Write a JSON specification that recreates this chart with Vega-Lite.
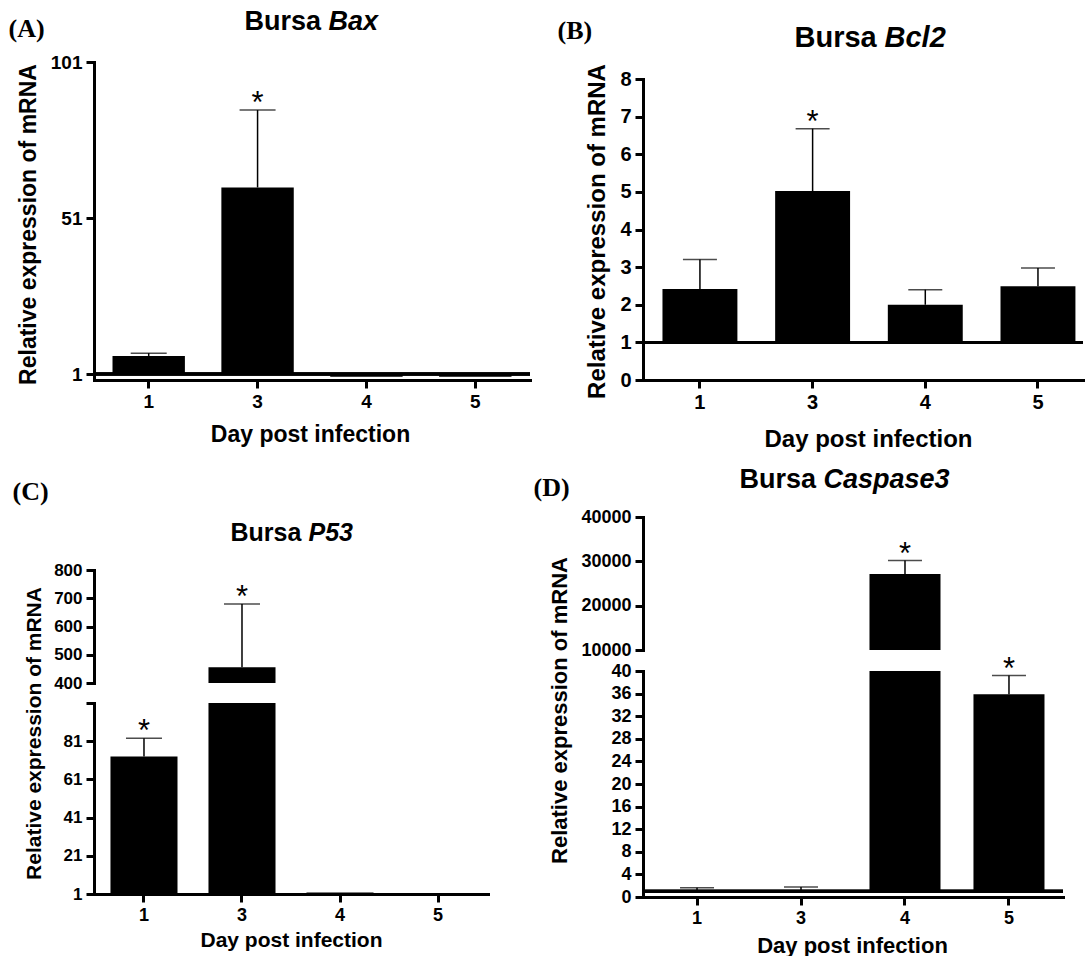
{
  "$schema": "https://vega.github.io/schema/vega-lite/v6.json",
  "background": "white",
  "padding": {"left": 8, "top": 7, "right": 0, "bottom": 0},
  "config": {
    "view": {"stroke": null},
    "font": "Liberation Sans",
    "axis": {
      "grid": false,
      "domainColor": "#000", "domainWidth": 3, "domainCap": "square",
      "tickColor": "#000", "tickWidth": 3, "tickSize": 8,
      "labelPadding": 4, "labelFont": "Liberation Sans", "labelFontWeight": "bold", "labelColor": "#000", "labelOverlap": false, "labelAngle": 0,
      "titleFont": "Liberation Sans", "titleFontWeight": "bold", "titleColor": "#000"
    }
  },
  "datasets": {
    "A": [
      {"day": "1", "value": 6.8, "err": 7.7, "sig": ""},
      {"day": "3", "value": 60.8, "err": 85.6, "sig": "*"},
      {"day": "4", "value": 0.15, "err": null, "sig": ""},
      {"day": "5", "value": 0.15, "err": null, "sig": ""}
    ],
    "B": [
      {"day": "1", "value": 2.42, "err": 3.2, "sig": ""},
      {"day": "3", "value": 5.02, "err": 6.68, "sig": "*"},
      {"day": "4", "value": 2.0, "err": 2.4, "sig": ""},
      {"day": "5", "value": 2.49, "err": 2.98, "sig": ""}
    ],
    "C": [
      {"day": "1", "value": 73, "err": 82.6, "sig": "*"},
      {"day": "3", "value": 456, "err": 680, "sig": "*"},
      {"day": "4", "value": 1.8, "err": null, "sig": ""},
      {"day": "5", "value": 1.05, "err": null, "sig": ""}
    ],
    "D": [
      {"day": "1", "value": 1.1, "err": 1.65, "sig": ""},
      {"day": "3", "value": 1.15, "err": 1.75, "sig": ""},
      {"day": "4", "value": 27158, "err": 30181, "sig": "*"},
      {"day": "5", "value": 35.9, "err": 39.2, "sig": "*"}
    ]
  },
  "spacing": 14,
  "vconcat": [
    {
      "hconcat": [
        {
          "width": 436, "height": 318,
          "data": {"name": "A"},
          "resolve": {"axis": {"x": "independent"}},
          "layer": [
            {
              "mark": {"type": "bar", "color": "#000"},
              "encoding": {
                "x": {"field": "day", "type": "nominal",
                  "scale": {"domain": ["1", "3", "4", "5"], "paddingInner": 0.335, "paddingOuter": 0.17},
                  "axis": {"orient": "bottom", "labelFontSize": 19, "title": "Day post infection", "titleFontSize": 23, "titleX": 216, "titleY": 61, "titleAlign": "center", "titleBaseline": "alphabetic"}},
                "y": {"field": "value", "type": "quantitative",
                  "scale": {"domain": [-0.9, 101], "nice": false, "zero": false},
                  "axis": {"values": [1, 51, 101], "tickCount": 30, "format": "d", "labelFontSize": 19, "title": "Relative expression of mRNA", "titleFontSize": 23, "titleX": -66, "titleY": 162, "titleAlign": "center", "titleBaseline": "middle", "titleAngle": 270}},
                "y2": {"datum": 1}
              }
            },
            {
              "transform": [{"filter": "datum.err != null"}],
              "mark": {"type": "rule", "color": "#000", "strokeWidth": 1.5},
              "encoding": {
                "x": {"field": "day", "type": "nominal",
                  "axis": {"orient": "top", "domain": false, "ticks": false, "labels": false, "title": "(A)", "titleFont": "Liberation Serif", "titleFontSize": 26, "titleX": -86, "titleY": -26, "titleAlign": "left", "titleBaseline": "alphabetic", "titleAngle": 0}},
                "y": {"field": "value", "type": "quantitative"},
                "y2": {"field": "err"}
              }
            },
            {
              "transform": [{"filter": "datum.err != null"}],
              "mark": {"type": "tick", "color": "#000", "thickness": 1.5, "size": 36},
              "encoding": {
                "x": {"field": "day", "type": "nominal",
                  "axis": {"orient": "top", "domain": false, "ticks": false, "labels": false, "title": "Bursa", "titleFontSize": 27, "titleX": 150, "titleY": -33, "titleAlign": "left", "titleBaseline": "alphabetic", "titleAngle": 0}},
                "y": {"field": "err", "type": "quantitative"}
              }
            },
            {
              "transform": [{"filter": "datum.sig == '*'"}],
              "mark": {"type": "text", "color": "#000", "fontSize": 31, "baseline": "alphabetic", "dy": 3},
              "encoding": {
                "x": {"field": "day", "type": "nominal",
                  "axis": {"orient": "top", "domain": false, "ticks": false, "labels": false, "title": "Bax", "titleFontStyle": "italic", "titleFontSize": 27, "titleX": 234, "titleY": -33, "titleAlign": "left", "titleBaseline": "alphabetic", "titleAngle": 0}},
                "y": {"field": "err", "type": "quantitative"},
                "text": {"field": "sig"}
              }
            },
            {
              "mark": {"type": "rule", "color": "#000", "strokeWidth": 3},
              "encoding": {"y": {"datum": 1}}
            }
          ]
        },
        {
          "width": 440, "height": 318,
          "data": {"name": "B"},
          "resolve": {"axis": {"x": "independent"}},
          "layer": [
            {
              "mark": {"type": "bar", "color": "#000"},
              "encoding": {
                "x": {"field": "day", "type": "nominal",
                  "scale": {"domain": ["1", "3", "4", "5"], "paddingInner": 0.335, "paddingOuter": 0.12, "align": 0.72},
                  "axis": {"orient": "bottom", "labelFontSize": 20, "title": "Day post infection", "titleFontSize": 24, "titleX": 225, "titleY": 66, "titleAlign": "center", "titleBaseline": "alphabetic"}},
                "y": {"field": "value", "type": "quantitative",
                  "scale": {"domain": [0, 8], "range": [318, 17], "nice": false, "zero": false},
                  "axis": {"values": [0, 1, 2, 3, 4, 5, 6, 7, 8], "tickCount": 30, "format": "d", "labelFontSize": 20, "title": "Relative expression of mRNA", "titleFontSize": 24, "titleX": -46, "titleY": 169, "titleAlign": "center", "titleBaseline": "middle", "titleAngle": 270}},
                "y2": {"datum": 1}
              }
            },
            {
              "transform": [{"filter": "datum.err != null"}],
              "mark": {"type": "rule", "color": "#000", "strokeWidth": 1.5},
              "encoding": {
                "x": {"field": "day", "type": "nominal",
                  "axis": {"orient": "top", "domain": false, "ticks": false, "labels": false, "title": "(B)", "titleFont": "Liberation Serif", "titleFontSize": 26, "titleX": -86, "titleY": -24, "titleAlign": "left", "titleBaseline": "alphabetic", "titleAngle": 0}},
                "y": {"field": "value", "type": "quantitative"},
                "y2": {"field": "err"}
              }
            },
            {
              "transform": [{"filter": "datum.err != null"}],
              "mark": {"type": "tick", "color": "#000", "thickness": 1.5, "size": 34},
              "encoding": {
                "x": {"field": "day", "type": "nominal",
                  "axis": {"orient": "top", "domain": false, "ticks": false, "labels": false, "title": "Bursa", "titleFontSize": 29, "titleX": 151, "titleY": -16, "titleAlign": "left", "titleBaseline": "alphabetic", "titleAngle": 0}},
                "y": {"field": "err", "type": "quantitative"}
              }
            },
            {
              "transform": [{"filter": "datum.sig == '*'"}],
              "mark": {"type": "text", "color": "#000", "fontSize": 31, "baseline": "alphabetic", "dy": 3},
              "encoding": {
                "x": {"field": "day", "type": "nominal",
                  "axis": {"orient": "top", "domain": false, "ticks": false, "labels": false, "title": "Bcl2", "titleFontStyle": "italic", "titleFontSize": 29, "titleX": 241, "titleY": -16, "titleAlign": "left", "titleBaseline": "alphabetic", "titleAngle": 0}},
                "y": {"field": "err", "type": "quantitative"},
                "text": {"field": "sig"}
              }
            },
            {
              "mark": {"type": "rule", "color": "#000", "strokeWidth": 3},
              "encoding": {"y": {"datum": 1}}
            }
          ]
        }
      ],
      "spacing": 113,
      "bounds": "flush"
    },
    {
      "concat": [
        {
          "width": 394, "height": 154,
          "data": {"name": "C"},
          "resolve": {"axis": {"x": "independent"}},
          "layer": [
            {
              "transform": [{"filter": "datum.value >= 400"}],
              "mark": {"type": "bar", "color": "#000"},
              "encoding": {
                "x": {"field": "day", "type": "nominal",
                  "scale": {"domain": ["1", "3", "4", "5"], "paddingInner": 0.316, "paddingOuter": 0.168},
                  "axis": {"orient": "top", "domain": false, "ticks": false, "labels": false, "title": "(C)", "titleFont": "Liberation Serif", "titleFontSize": 26, "titleX": -82, "titleY": -18, "titleAlign": "left", "titleBaseline": "alphabetic", "titleAngle": 0}},
                "y": {"field": "value", "type": "quantitative",
                  "scale": {"domain": [400, 800], "range": [166, 53], "nice": false, "zero": false},
                  "axis": {"values": [400, 500, 600, 700, 800], "tickCount": 30, "format": "d", "labelFontSize": 17, "title": null}},
                "y2": {"datum": 400}
              }
            },
            {
              "transform": [{"filter": "datum.err != null && datum.value >= 400"}],
              "mark": {"type": "rule", "color": "#000", "strokeWidth": 1.5},
              "encoding": {
                "x": {"field": "day", "type": "nominal",
                  "axis": {"orient": "top", "domain": false, "ticks": false, "labels": false, "title": "Bursa", "titleFontSize": 25, "titleX": 136, "titleY": 23, "titleAlign": "left", "titleBaseline": "alphabetic", "titleAngle": 0}},
                "y": {"field": "value", "type": "quantitative"},
                "y2": {"field": "err"}
              }
            },
            {
              "transform": [{"filter": "datum.err != null && datum.value >= 400"}],
              "mark": {"type": "tick", "color": "#000", "thickness": 1.5, "size": 36},
              "encoding": {
                "x": {"field": "day", "type": "nominal",
                  "axis": {"orient": "top", "domain": false, "ticks": false, "labels": false, "title": "P53", "titleFontStyle": "italic", "titleFontSize": 25, "titleX": 214, "titleY": 23, "titleAlign": "left", "titleBaseline": "alphabetic", "titleAngle": 0}},
                "y": {"field": "err", "type": "quantitative"}
              }
            },
            {
              "transform": [{"filter": "datum.sig == '*' && datum.err >= 400"}],
              "mark": {"type": "text", "color": "#000", "fontSize": 31, "baseline": "alphabetic", "dy": 3},
              "encoding": {
                "x": {"field": "day", "type": "nominal", "axis": null},
                "y": {"field": "err", "type": "quantitative"},
                "text": {"field": "sig"}
              }
            }
          ]
        },
        {
          "width": 420, "height": 154,
          "data": {"name": "D"},
          "resolve": {"axis": {"x": "independent"}},
          "layer": [
            {
              "transform": [{"filter": "datum.value >= 10000"}],
              "mark": {"type": "bar", "color": "#000"},
              "encoding": {
                "x": {"field": "day", "type": "nominal",
                  "scale": {"domain": ["1", "3", "4", "5"], "paddingInner": 0.317, "paddingOuter": 0.178},
                  "axis": {"orient": "top", "domain": false, "ticks": false, "labels": false, "title": "(D)", "titleFont": "Liberation Serif", "titleFontSize": 26, "titleX": -110, "titleY": -22, "titleAlign": "left", "titleBaseline": "alphabetic", "titleAngle": 0}},
                "y": {"field": "value", "type": "quantitative",
                  "scale": {"domain": [10000, 40000], "range": [133, 0], "nice": false, "zero": false},
                  "axis": {"values": [10000, 20000, 30000, 40000], "tickCount": 30, "format": "d", "labelFontSize": 18, "title": null}},
                "y2": {"datum": 10000}
              }
            },
            {
              "transform": [{"filter": "datum.err != null && datum.value >= 10000"}],
              "mark": {"type": "rule", "color": "#000", "strokeWidth": 1.5},
              "encoding": {
                "x": {"field": "day", "type": "nominal",
                  "axis": {"orient": "top", "domain": false, "ticks": false, "labels": false, "title": "Bursa", "titleFontSize": 27, "titleX": 96, "titleY": -30, "titleAlign": "left", "titleBaseline": "alphabetic", "titleAngle": 0}},
                "y": {"field": "value", "type": "quantitative"},
                "y2": {"field": "err"}
              }
            },
            {
              "transform": [{"filter": "datum.err != null && datum.value >= 10000"}],
              "mark": {"type": "tick", "color": "#000", "thickness": 1.5, "size": 34},
              "encoding": {
                "x": {"field": "day", "type": "nominal",
                  "axis": {"orient": "top", "domain": false, "ticks": false, "labels": false, "title": "Caspase3", "titleFontStyle": "italic", "titleFontSize": 27, "titleX": 180, "titleY": -30, "titleAlign": "left", "titleBaseline": "alphabetic", "titleAngle": 0}},
                "y": {"field": "err", "type": "quantitative"}
              }
            },
            {
              "transform": [{"filter": "datum.sig == '*' && datum.err >= 10000"}],
              "mark": {"type": "text", "color": "#000", "fontSize": 31, "baseline": "alphabetic", "dy": 3},
              "encoding": {
                "x": {"field": "day", "type": "nominal", "axis": null},
                "y": {"field": "err", "type": "quantitative"},
                "text": {"field": "sig"}
              }
            }
          ]
        },
        {
          "width": 394, "height": 223,
          "data": {"name": "C"},
          "layer": [
            {
              "mark": {"type": "bar", "color": "#000"},
              "encoding": {
                "x": {"field": "day", "type": "nominal",
                  "scale": {"domain": ["1", "3", "4", "5"], "paddingInner": 0.316, "paddingOuter": 0.168},
                  "axis": {"orient": "bottom", "labelFontSize": 18, "title": "Day post infection", "titleFontSize": 21, "titleX": 197, "titleY": 52, "titleAlign": "center", "titleBaseline": "alphabetic"}},
                "y": {"field": "value", "type": "quantitative",
                  "scale": {"domain": [1, 101], "range": [223, 32], "clamp": true, "nice": false, "zero": false},
                  "axis": {"values": [1, 21, 41, 61, 81, 101], "tickCount": 30, "format": "d", "labelExpr": "datum.value == 101 ? '' : datum.label", "labelFontSize": 17, "title": "Relative expression of mRNA", "titleFontSize": 21, "titleX": -60, "titleY": 62, "titleAlign": "center", "titleBaseline": "middle", "titleAngle": 270}},
                "y2": {"datum": 1}
              }
            },
            {
              "transform": [{"filter": "datum.err != null && datum.err <= 101"}],
              "mark": {"type": "rule", "color": "#000", "strokeWidth": 1.5},
              "encoding": {
                "x": {"field": "day", "type": "nominal"},
                "y": {"field": "value", "type": "quantitative"},
                "y2": {"field": "err"}
              }
            },
            {
              "transform": [{"filter": "datum.err != null && datum.err <= 101"}],
              "mark": {"type": "tick", "color": "#000", "thickness": 1.5, "size": 36},
              "encoding": {
                "x": {"field": "day", "type": "nominal"},
                "y": {"field": "err", "type": "quantitative"}
              }
            },
            {
              "transform": [{"filter": "datum.sig == '*' && datum.err <= 101"}],
              "mark": {"type": "text", "color": "#000", "fontSize": 31, "baseline": "alphabetic", "dy": 3},
              "encoding": {
                "x": {"field": "day", "type": "nominal"},
                "y": {"field": "err", "type": "quantitative"},
                "text": {"field": "sig"}
              }
            }
          ]
        },
        {
          "width": 420, "height": 226,
          "data": {"name": "D"},
          "layer": [
            {
              "mark": {"type": "bar", "color": "#000"},
              "encoding": {
                "x": {"field": "day", "type": "nominal",
                  "scale": {"domain": ["1", "3", "4", "5"], "paddingInner": 0.317, "paddingOuter": 0.178},
                  "axis": {"orient": "bottom", "labelFontSize": 18, "title": "Day post infection", "titleFontSize": 22, "titleX": 209, "titleY": 55, "titleAlign": "center", "titleBaseline": "alphabetic"}},
                "y": {"field": "value", "type": "quantitative",
                  "scale": {"domain": [0, 40], "clamp": true, "nice": false, "zero": false},
                  "axis": {"values": [0, 4, 8, 12, 16, 20, 24, 28, 32, 36, 40], "tickCount": 30, "format": "d", "labelFontSize": 18, "title": "Relative expression of mRNA", "titleFontSize": 22, "titleX": -84, "titleY": 39, "titleAlign": "center", "titleBaseline": "middle", "titleAngle": 270}},
                "y2": {"datum": 1}
              }
            },
            {
              "transform": [{"filter": "datum.err != null && datum.err <= 40"}],
              "mark": {"type": "rule", "color": "#000", "strokeWidth": 1.5},
              "encoding": {
                "x": {"field": "day", "type": "nominal"},
                "y": {"field": "value", "type": "quantitative"},
                "y2": {"field": "err"}
              }
            },
            {
              "transform": [{"filter": "datum.err != null && datum.err <= 40"}],
              "mark": {"type": "tick", "color": "#000", "thickness": 1.5, "size": 34},
              "encoding": {
                "x": {"field": "day", "type": "nominal"},
                "y": {"field": "err", "type": "quantitative"}
              }
            },
            {
              "transform": [{"filter": "datum.sig == '*' && datum.err <= 40"}],
              "mark": {"type": "text", "color": "#000", "fontSize": 31, "baseline": "alphabetic", "dy": 3},
              "encoding": {
                "x": {"field": "day", "type": "nominal"},
                "y": {"field": "err", "type": "quantitative"},
                "text": {"field": "sig"}
              }
            },
            {
              "mark": {"type": "rule", "color": "#000", "strokeWidth": 3},
              "encoding": {"y": {"datum": 1}}
            }
          ]
        }
      ],
      "columns": 2,
      "spacing": {"row": 0, "column": 155},
      "bounds": "flush"
    }
  ]
}
